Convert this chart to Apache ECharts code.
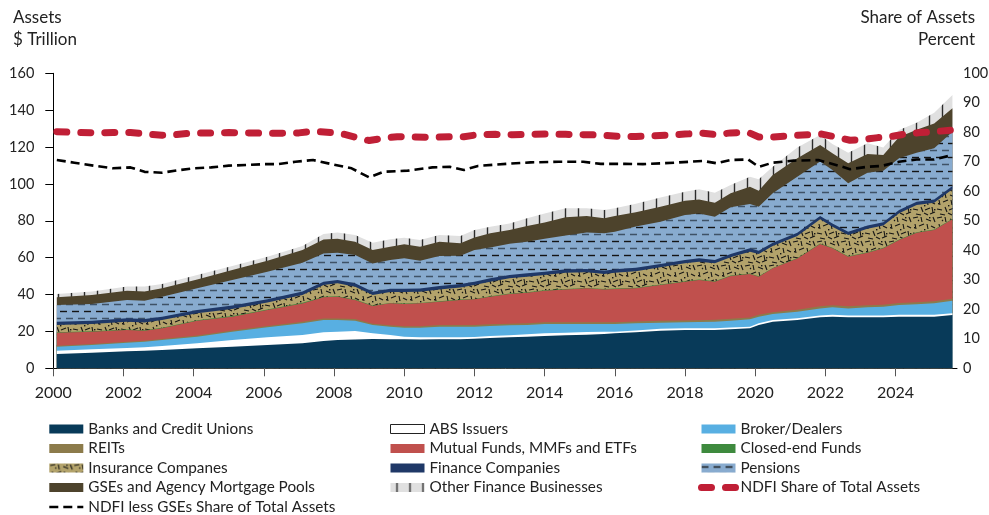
<!DOCTYPE html>
<html><head><meta charset="utf-8">
<script src="https://cdn.jsdelivr.net/npm/echarts@6/dist/echarts.min.js"></script>
<style>html,body{margin:0;padding:0;background:#fff}#c{width:989px;height:515px}</style>
</head><body><div id="c"></div>
<script>
// ---------- data ----------
const years = [2000.1, 2001.1, 2002.1, 2002.6, 2003.1, 2004.1, 2005.1, 2006.1, 2007.1, 2007.7, 2008.1, 2008.6, 2009.1, 2009.6, 2010.0, 2010.45, 2011.0, 2011.6, 2012.0, 2012.45, 2013.0, 2013.5, 2014.0, 2014.6, 2015.2, 2015.7, 2016.0, 2016.6, 2017.3, 2018.0, 2018.4, 2018.85, 2019.3, 2019.85, 2020.1, 2020.5, 2021.2, 2021.85, 2022.2, 2022.65, 2023.2, 2023.65, 2024.1, 2024.6, 2025.1, 2025.62];
const banks = [7.75, 8.48, 9.2, 9.56, 9.92, 10.83, 11.73, 12.64, 13.54, 14.8, 15.35, 15.6, 15.9, 15.7, 15.7, 15.6, 15.7, 15.8, 16.07, 16.43, 16.8, 17.15, 17.5, 17.88, 18.24, 18.6, 18.96, 19.5, 20.4, 20.77, 20.77, 20.77, 21.13, 21.68, 23.48, 25.29, 26.19, 27.64, 28.0, 27.64, 27.64, 27.64, 28.0, 28.0, 28.0, 28.9];
const absIssuers = [1.81, 1.82, 1.8, 1.81, 2.18, 2.71, 3.62, 4.16, 4.52, 4.7, 4.52, 4.6, 3.06, 2.36, 1.45, 1.2, 1.1, 1.0, 0.9, 1.07, 1.08, 1.27, 1.46, 1.44, 1.45, 1.27, 0.91, 1.0, 1.0, 1.0, 1.0, 1.0, 0.97, 0.92, 0.92, 0.91, 0.91, 0.96, 1.0, 0.96, 0.96, 0.96, 1.0, 1.0, 1.0, 1.0];
const brokerDealers = [2.17, 2.34, 2.9, 3.07, 3.25, 3.61, 4.52, 5.4, 6.34, 6.7, 6.33, 5.63, 4.52, 4.52, 4.88, 5.23, 5.78, 5.78, 5.61, 5.44, 5.42, 5.06, 5.06, 4.7, 4.33, 4.15, 4.15, 3.89, 3.35, 3.16, 3.33, 3.52, 3.73, 3.96, 3.6, 3.25, 3.6, 3.9, 4.06, 3.9, 4.46, 4.82, 5.33, 5.69, 6.23, 6.78];
const reits = [0.5, 0.5, 0.5, 0.5, 0.55, 0.6, 0.65, 0.7, 0.8, 0.85, 0.85, 0.85, 0.75, 0.8, 0.8, 0.8, 0.85, 0.85, 0.9, 0.9, 0.9, 0.9, 0.95, 0.95, 0.95, 0.95, 1.0, 1.0, 1.0, 1.0, 1.0, 1.0, 1.05, 1.05, 1.0, 1.0, 1.1, 1.2, 1.2, 1.1, 1.1, 1.1, 1.1, 1.1, 1.1, 1.1];
const mutualFunds = [7.07, 6.73, 6.4, 5.46, 5.8, 8.05, 7.48, 8.7, 10.0, 11.45, 11.75, 10.36, 9.56, 11.85, 12.04, 12.4, 12.7, 13.61, 13.92, 15.01, 16.1, 16.62, 17.13, 17.83, 18.4, 17.83, 17.98, 18.01, 19.45, 21.07, 21.8, 20.71, 23.17, 23.49, 20.7, 23.75, 27.8, 33.7, 30.8, 26.9, 28.54, 30.54, 34.17, 37.76, 38.67, 43.02];
const closedEnd = [0.25, 0.25, 0.25, 0.25, 0.25, 0.3, 0.3, 0.3, 0.3, 0.3, 0.3, 0.3, 0.25, 0.25, 0.25, 0.25, 0.25, 0.25, 0.25, 0.25, 0.25, 0.25, 0.25, 0.25, 0.25, 0.25, 0.25, 0.25, 0.25, 0.25, 0.25, 0.25, 0.25, 0.25, 0.25, 0.25, 0.25, 0.3, 0.3, 0.3, 0.3, 0.3, 0.3, 0.3, 0.3, 0.3];
const insurance = [3.95, 3.88, 4.25, 4.25, 4.25, 3.7, 3.9, 3.8, 4.3, 6.4, 7.0, 6.94, 5.72, 5.9, 6.2, 6.0, 6.4, 6.6, 7.53, 7.89, 8.25, 8.45, 8.25, 8.82, 8.43, 8.09, 8.62, 9.05, 9.31, 9.68, 9.69, 9.68, 9.88, 11.91, 12.05, 11.88, 11.9, 13.1, 11.44, 11.5, 12.7, 12.04, 14.15, 14.75, 14.5, 15.96];
const financeCos = [1.8, 1.8, 1.8, 1.8, 1.8, 1.8, 1.8, 1.8, 1.8, 1.8, 1.8, 1.8, 1.8, 1.8, 1.8, 1.8, 1.8, 1.8, 1.8, 1.8, 1.8, 1.8, 1.8, 1.8, 1.8, 1.8, 1.8, 1.8, 1.8, 1.8, 1.8, 1.8, 1.8, 1.8, 1.8, 1.8, 1.8, 1.8, 1.8, 1.8, 1.8, 1.8, 1.8, 1.8, 1.8, 1.8];
const pensions = [9.0, 9.1, 9.9, 10.0, 10.8, 11.8, 13.9, 14.9, 15.7, 15.3, 14.8, 15.36, 15.34, 15.55, 16.52, 15.09, 16.32, 15.31, 17.17, 16.71, 16.9, 17.1, 17.9, 18.33, 19.75, 20.26, 20.43, 22.4, 22.94, 24.37, 24.36, 23.47, 25.32, 24.04, 23.85, 26.77, 30.35, 29.5, 28.9, 26.2, 28.6, 28.0, 28.05, 26.5, 27.7, 29.44];
const gses = [4.2, 4.85, 5.1, 4.9, 4.6, 4.8, 5.4, 6.0, 6.9, 7.6, 7.6, 7.23, 7.25, 7.23, 7.59, 7.59, 7.77, 6.8, 6.85, 7.7, 7.5, 8.57, 8.8, 9.87, 9.0, 8.13, 8.5, 7.7, 8.15, 7.8, 7.5, 7.6, 7.6, 9.4, 8.65, 9.9, 10.0, 9.0, 9.1, 10.85, 10.1, 8.5, 11.5, 12.5, 13.5, 12.7];
const otherFinance = [1.8, 1.85, 2.2, 2.7, 2.3, 2.4, 2.2, 2.1, 2.1, 2.9, 3.3, 3.63, 3.98, 3.98, 3.61, 3.62, 3.63, 4.0, 4.0, 3.6, 3.6, 4.16, 4.8, 4.88, 4.15, 4.52, 4.15, 4.6, 5.0, 4.9, 5.6, 5.4, 4.5, 5.4, 6.2, 4.5, 5.9, 5.4, 5.0, 5.75, 5.8, 4.1, 3.8, 3.8, 5.8, 7.2];

const ndfiShareYears = [2000.1, 2000.6, 2001.2, 2001.7, 2002.2, 2002.6, 2003.1, 2003.5, 2004.0, 2004.5, 2005.0, 2005.5, 2006.0, 2006.5, 2007.0, 2007.4, 2007.9, 2008.3, 2008.7, 2009.0, 2009.4, 2009.8, 2010.3, 2010.8, 2011.3, 2011.7, 2012.1, 2012.6, 2013.1, 2013.6, 2014.1, 2014.6, 2015.1, 2015.6, 2016.1, 2016.6, 2017.1, 2017.6, 2018.0, 2018.5, 2018.9, 2019.3, 2019.8, 2020.1, 2020.5, 2021.0, 2021.5, 2021.9, 2022.3, 2022.7, 2023.1, 2023.5, 2023.9, 2024.3, 2024.7, 2025.1, 2025.62];
const ndfiShare = [80.2, 80.0, 79.8, 79.9, 79.9, 79.5, 79.0, 79.2, 79.8, 79.8, 79.9, 79.8, 79.7, 79.7, 79.8, 80.4, 79.9, 79.3, 78.0, 77.2, 78.0, 78.5, 78.4, 78.3, 78.5, 78.5, 79.2, 79.3, 79.2, 79.3, 79.4, 79.3, 79.2, 79.1, 78.6, 78.6, 78.8, 79.1, 79.4, 79.7, 79.2, 79.8, 80.0, 78.4, 78.4, 78.8, 79.2, 79.4, 78.4, 77.3, 77.6, 78.2, 78.6, 79.5, 79.9, 80.2, 80.8];
const ndfiLessYears = [2000.1, 2000.6, 2001.2, 2001.7, 2002.2, 2002.6, 2003.1, 2003.6, 2004.0, 2004.5, 2005.0, 2005.5, 2006.0, 2006.4, 2006.9, 2007.4, 2007.9, 2008.5, 2009.0, 2009.4, 2010.1, 2010.8, 2011.3, 2011.7, 2012.1, 2012.9, 2013.6, 2014.4, 2015.1, 2015.6, 2016.3, 2016.8, 2017.7, 2018.5, 2018.9, 2019.3, 2019.8, 2020.1, 2020.5, 2021.1, 2021.8, 2022.4, 2022.7, 2023.2, 2023.6, 2024.1, 2024.6, 2025.1, 2025.62];
const ndfiLessGses = [70.6, 69.7, 68.6, 67.8, 68.1, 66.6, 66.3, 67.2, 67.8, 68.1, 68.7, 68.9, 69.2, 69.2, 70.0, 70.6, 69.3, 67.8, 64.7, 66.6, 67.0, 68.1, 68.3, 67.2, 68.6, 69.3, 69.8, 70.0, 70.0, 69.3, 69.3, 69.2, 69.7, 70.3, 69.5, 70.6, 70.8, 68.3, 69.7, 70.4, 70.6, 68.6, 67.5, 68.3, 68.6, 70.0, 70.8, 70.8, 72.3];

const tickYears = [2000, 2002, 2004, 2006, 2008, 2010, 2012, 2014, 2016, 2018, 2020, 2022, 2024];

// ---------- fill patterns ----------
function tile(w, h, bg, draw) {
  const c = document.createElement('canvas'); c.width = w; c.height = h;
  const g = c.getContext('2d'); g.fillStyle = bg; g.fillRect(0, 0, w, h); draw(g);
  return { image: c, repeat: 'repeat' };
}
const pensionFill = tile(12, 14, '#88abcf', g => {
  g.lineWidth = 1.4;
  g.strokeStyle = '#141414'; g.beginPath(); g.moveTo(0, 3.5); g.lineTo(7, 3.5); g.stroke();
  g.strokeStyle = '#3f5266'; g.beginPath(); g.moveTo(6, 10.5); g.lineTo(12, 10.5); g.moveTo(0, 10.5); g.lineTo(1, 10.5); g.stroke();
});
const insuranceStrokes = [[1,2,6,1],[9,1,10,6],[14,3,19,5],[21,1,23,6],[3,8,4,13],[7,10,12,8],[15,8,16,13],[19,10,23,12],[1,17,6,18],[9,15,11,20],[13,18,18,16],[20,15,21,21],[4,22,9,23],[12,21,16,23],[18,22,23,20],[6,4,7,5]];
const insuranceFill = tile(24, 24, '#b3a36b', g => {
  g.strokeStyle = '#151515'; g.lineWidth = 1.1;
  insuranceStrokes.forEach(s => { g.beginPath(); g.moveTo(s[0], s[1]); g.lineTo(s[2], s[3]); g.stroke(); });
  g.fillStyle = '#151515'; [[12,13],[2,11],[17,1],[22,17]].forEach(p => g.fillRect(p[0], p[1], 1.4, 1.4));
});
const otherFill = tile(13, 10, '#e0e0e0', g => {
  g.strokeStyle = '#2b2b2b'; g.lineWidth = 1.4; g.beginPath(); g.moveTo(6.5, 0); g.lineTo(6.5, 10); g.stroke();
});

const FONT = 'Lato';
// bottom to top
const layers = [
  ['Banks and Credit Unions', banks, '#083a59'],
  ['ABS Issuers', absIssuers, '#ffffff'],
  ['Broker/Dealers', brokerDealers, '#58afe2'],
  ['REITs', reits, '#8c7b4b'],
  ['Mutual Funds, MMFs and ETFs', mutualFunds, '#c0504d'],
  ['Closed-end Funds', closedEnd, '#3e8a3e'],
  ['Insurance Companes', insurance, insuranceFill],
  ['Finance Companies', financeCos, '#1f3867'],
  ['Pensions', pensions, pensionFill],
  ['GSEs and Agency Mortgage Pools', gses, '#4d432c'],
  ['Other Finance Businesses', otherFinance, otherFill]
];
const fillOf = {}; layers.forEach(l => fillOf[l[0]] = l[2]);

// cumulative tops (stacking done here; each area is filled down to the axis, drawn top layer first)
const running = years.map(() => 0);
const stacked = layers.map(l => {
  const tops = l[1].map((v, i) => (running[i] += v));
  return { name: l[0], fill: l[2], tops: tops.slice() };
});
const series = stacked.slice().reverse().map(s => ({
  name: s.name, type: 'line', symbol: 'none', silent: true,
  data: years.map((x, i) => [x, s.tops[i]]),
  lineStyle: { width: 0 }, itemStyle: { color: s.fill },
  areaStyle: { color: s.fill, opacity: 1, origin: 'start' }, z: 2
}));
series.push({
  name: 'NDFI less GSEs Share of Total Assets', type: 'line', yAxisIndex: 1, symbol: 'none', silent: true,
  data: ndfiLessYears.map((x, i) => [x, ndfiLessGses[i]]),
  itemStyle: { color: '#000' },
  lineStyle: { color: '#000', width: 2.6, type: [9, 5] }, z: 9
});
series.push({
  name: 'NDFI Share of Total Assets', type: 'line', yAxisIndex: 1, symbol: 'none', silent: true,
  data: ndfiShareYears.map((x, i) => [x, ndfiShare[i]]),
  itemStyle: { color: '#c01f36' },
  lineStyle: { color: '#c01f36', width: 7, type: [10, 14], cap: 'round' }, z: 10
});

function rectItem(name) {
  return { name: name, icon: 'rect', itemStyle: { color: fillOf[name], borderWidth: 0 } };
}
const legendBase = {
  orient: 'vertical', itemWidth: 34, itemHeight: 9, itemGap: 4.5, selectedMode: false, padding: 0, height: 110,
  textStyle: { fontSize: 15.3, fontFamily: FONT, color: '#222' }
};
const legends = [
  Object.assign({}, legendBase, { left: 48, top: 421.5, data: [
    rectItem('Banks and Credit Unions'), rectItem('REITs'), rectItem('Insurance Companes'),
    rectItem('GSEs and Agency Mortgage Pools'),
    { name: 'NDFI less GSEs Share of Total Assets', itemStyle: { opacity: 0 }, lineStyle: { width: 2.6 } }
  ]}),
  Object.assign({}, legendBase, { left: 390, top: 421.5, data: [
    { name: 'ABS Issuers', icon: 'rect', itemStyle: { color: '#fff', borderColor: '#222', borderWidth: 1 } },
    rectItem('Mutual Funds, MMFs and ETFs'), rectItem('Finance Companies'), rectItem('Other Finance Businesses')
  ]}),
  Object.assign({}, legendBase, { left: 698, top: 421.5, data: [
    rectItem('Broker/Dealers'), rectItem('Closed-end Funds'), rectItem('Pensions'),
    { name: 'NDFI Share of Total Assets', itemStyle: { opacity: 0 }, lineStyle: { width: 7 } }
  ]})
];

const chart = echarts.init(document.getElementById('c'), null, { renderer: 'canvas' });
chart.setOption({
  animation: false,
  textStyle: { fontFamily: FONT },
  grid: { left: 53.3, right: 32, top: 73.3, bottom: 146.7, containLabel: false, outerBoundsMode: 'none' },
  xAxis: {
    type: 'value', min: 2000, max: 2025.75, interval: 2,
    axisLine: { show: true, onZero: false, lineStyle: { color: '#000', width: 1 } },
    axisTick: { show: true, length: 8, customValues: tickYears, lineStyle: { color: '#555' } },
    axisLabel: { customValues: tickYears, margin: 17, fontSize: 16, color: '#222', fontFamily: FONT, formatter: v => String(v) },
    splitLine: { show: false }
  },
  yAxis: [
    { type: 'value', min: 0, max: 160, interval: 20, position: 'left',
      axisLine: { show: true, onZero: false, lineStyle: { color: '#000' } },
      axisTick: { show: true, length: 8, lineStyle: { color: '#000' } },
      axisLabel: { margin: 19, fontSize: 14.5, color: '#222', fontFamily: FONT },
      splitLine: { show: false } },
    { type: 'value', min: 0, max: 100, interval: 10, position: 'right',
      axisLine: { show: false, onZero: false }, axisTick: { show: false },
      axisLabel: { inside: false, align: 'left', margin: 6, fontSize: 14.5, color: '#222', fontFamily: FONT },
      splitLine: { show: false } }
  ],
  legend: legends,
  graphic: [
    { type: 'text', left: 13, top: 9, style: { text: 'Assets', font: '17px Lato', fill: '#222' } },
    { type: 'text', left: 13, top: 31, style: { text: '$ Trillion', font: '17px Lato', fill: '#222' } },
    { type: 'text', right: 14, top: 9, style: { text: 'Share of Assets', font: '17px Lato', fill: '#222' } },
    { type: 'text', right: 14, top: 31, style: { text: 'Percent', font: '17px Lato', fill: '#222' } }
  ],
  series: series
});
</script></body></html>
